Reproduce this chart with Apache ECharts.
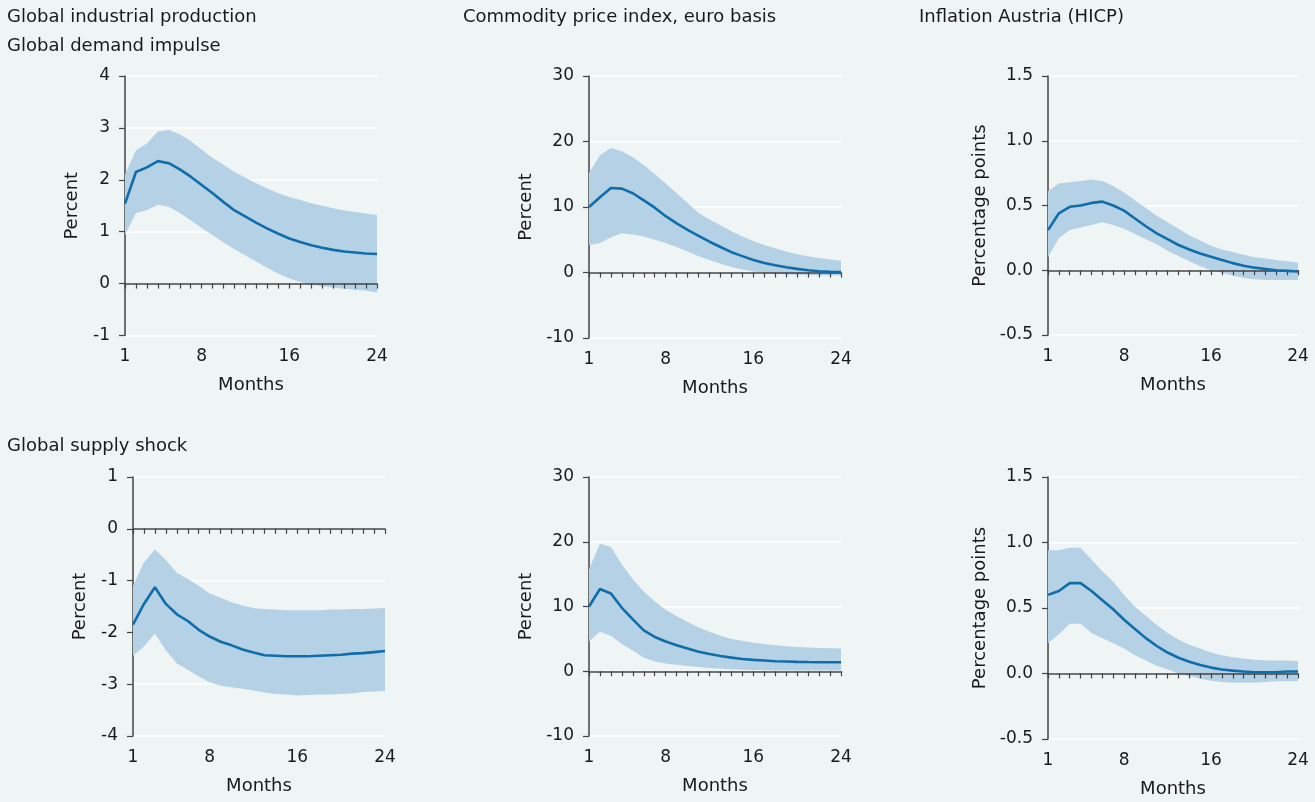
<!DOCTYPE html>
<html>
<head>
<meta charset="utf-8">
<script src="https://cdn.jsdelivr.net/npm/echarts@6/dist/echarts.min.js"></script>
<style>
html,body{margin:0;padding:0;background:#eff5f5;}
#chart{width:1315px;height:802px;}
</style>
</head>
<body>
<div id="chart"></div>
<script>
// ---- data ----
const months = [1,2,3,4,5,6,7,8,9,10,11,12,13,14,15,16,17,18,19,20,21,22,23,24];
const xTickLabels = [1, 8, 16, 24];

// Global demand impulse
const ipDemandMid   = [1.54,2.15,2.24,2.36,2.32,2.20,2.06,1.90,1.74,1.57,1.41,1.29,1.17,1.06,0.96,0.87,0.80,0.74,0.69,0.65,0.62,0.60,0.58,0.57];
const ipDemandUp    = [2.10,2.57,2.70,2.93,2.96,2.88,2.75,2.58,2.42,2.29,2.15,2.04,1.93,1.83,1.74,1.67,1.61,1.55,1.50,1.45,1.41,1.38,1.35,1.32];
const ipDemandLo    = [0.93,1.36,1.42,1.52,1.48,1.36,1.22,1.07,0.93,0.79,0.66,0.54,0.42,0.30,0.19,0.10,0.03,-0.02,-0.05,-0.08,-0.10,-0.12,-0.14,-0.17];

const comDemandMid  = [10.0,11.5,12.9,12.8,12.1,11.0,9.9,8.6,7.5,6.5,5.6,4.7,3.9,3.1,2.5,1.9,1.45,1.1,0.8,0.55,0.35,0.2,0.1,0.05];
const comDemandUp   = [15.2,17.9,19.0,18.5,17.6,16.4,15.0,13.6,12.1,10.6,9.1,8.1,7.2,6.3,5.5,4.8,4.2,3.7,3.2,2.8,2.5,2.2,2.0,1.8];
const comDemandLo   = [4.2,4.5,5.4,6.0,5.8,5.5,5.0,4.5,3.9,3.2,2.5,1.9,1.35,0.85,0.45,0.15,-0.05,-0.2,-0.3,-0.35,-0.4,-0.45,-0.45,-0.45];

const cpiDemandMid  = [0.31,0.44,0.49,0.50,0.52,0.53,0.50,0.46,0.40,0.34,0.285,0.24,0.195,0.16,0.13,0.105,0.08,0.055,0.035,0.02,0.01,0.0,-0.005,-0.01];
const cpiDemandUp   = [0.61,0.67,0.68,0.69,0.70,0.69,0.65,0.60,0.54,0.48,0.42,0.37,0.32,0.27,0.23,0.19,0.16,0.14,0.12,0.10,0.09,0.08,0.07,0.06];
const cpiDemandLo   = [0.10,0.25,0.31,0.33,0.35,0.37,0.35,0.32,0.28,0.24,0.20,0.15,0.11,0.07,0.03,0.0,-0.02,-0.04,-0.06,-0.07,-0.075,-0.075,-0.075,-0.075];

// Global supply shock
const ipSupplyMid   = [-1.85,-1.45,-1.13,-1.45,-1.65,-1.78,-1.95,-2.08,-2.18,-2.25,-2.33,-2.39,-2.44,-2.45,-2.46,-2.46,-2.46,-2.45,-2.44,-2.43,-2.41,-2.40,-2.38,-2.36];
const ipSupplyUp    = [-1.10,-0.65,-0.40,-0.60,-0.85,-0.97,-1.10,-1.25,-1.33,-1.42,-1.48,-1.53,-1.55,-1.56,-1.57,-1.57,-1.57,-1.57,-1.56,-1.56,-1.55,-1.55,-1.54,-1.53];
const ipSupplyLo    = [-2.45,-2.27,-2.02,-2.35,-2.60,-2.72,-2.85,-2.96,-3.03,-3.06,-3.09,-3.12,-3.16,-3.19,-3.20,-3.22,-3.21,-3.20,-3.20,-3.19,-3.18,-3.15,-3.14,-3.13];

const comSupplyMid  = [10.0,12.7,12.0,9.8,8.0,6.3,5.3,4.6,4.0,3.5,3.0,2.65,2.35,2.1,1.9,1.75,1.65,1.55,1.5,1.45,1.42,1.4,1.4,1.4];
const comSupplyUp   = [15.8,19.7,19.2,16.5,14.2,12.3,10.8,9.5,8.5,7.6,6.8,6.1,5.5,5.0,4.7,4.4,4.2,4.0,3.85,3.75,3.65,3.6,3.55,3.5];
const comSupplyLo   = [4.6,6.1,5.5,4.2,3.2,2.1,1.5,1.2,1.0,0.8,0.65,0.5,0.4,0.3,0.25,0.2,0.15,0.12,0.1,0.1,0.1,0.1,0.1,0.1];

const cpiSupplyMid  = [0.60,0.63,0.69,0.69,0.63,0.56,0.49,0.41,0.34,0.27,0.21,0.16,0.12,0.09,0.065,0.045,0.03,0.022,0.015,0.01,0.01,0.01,0.015,0.015];
const cpiSupplyUp   = [0.94,0.94,0.96,0.96,0.87,0.78,0.70,0.60,0.51,0.44,0.37,0.31,0.26,0.22,0.19,0.16,0.14,0.125,0.115,0.105,0.10,0.10,0.10,0.095];
const cpiSupplyLo   = [0.23,0.30,0.38,0.38,0.31,0.27,0.23,0.19,0.14,0.10,0.06,0.03,0.0,-0.02,-0.04,-0.055,-0.065,-0.07,-0.07,-0.07,-0.065,-0.06,-0.06,-0.06];

const titles = ['Global industrial production', 'Global demand impulse', 'Commodity price index, euro basis', 'Inflation Austria (HICP)', 'Global supply shock'];
const yNames = ['Percent', 'Percent', 'Percentage points', 'Percent', 'Percent', 'Percentage points'];
const xName = 'Months';

// ---- layout ----
const FONT = 'DejaVu Sans';
const TXT = '#1a1a1a';
const AX = '#444';
const BAND = '#b5d1e6';
const LINE = '#0f6eaa';

const panels = [
  {grid:{left:125, top:76, width:252, height:259.5}, min:-1, max:4, interval:1, dec:0, mid:ipDemandMid, up:ipDemandUp, lo:ipDemandLo, yName:yNames[0], nameGap:44},
  {grid:{left:589, top:76, width:252, height:262}, min:-10, max:30, interval:10, dec:0, mid:comDemandMid, up:comDemandUp, lo:comDemandLo, yName:yNames[1], nameGap:54},
  {grid:{left:1048, top:76, width:250, height:259}, min:-0.5, max:1.5, interval:0.5, dec:1, mid:cpiDemandMid, up:cpiDemandUp, lo:cpiDemandLo, yName:yNames[2], nameGap:59},
  {grid:{left:133, top:477, width:252, height:259}, min:-4, max:1, interval:1, dec:0, mid:ipSupplyMid, up:ipSupplyUp, lo:ipSupplyLo, yName:yNames[3], nameGap:44},
  {grid:{left:589, top:477, width:252, height:259}, min:-10, max:30, interval:10, dec:0, mid:comSupplyMid, up:comSupplyUp, lo:comSupplyLo, yName:yNames[4], nameGap:54},
  {grid:{left:1048, top:477, width:250, height:262}, min:-0.5, max:1.5, interval:0.5, dec:1, mid:cpiSupplyMid, up:cpiSupplyUp, lo:cpiSupplyLo, yName:yNames[5], nameGap:59}
];

const grids = [], xAxes = [], yAxes = [], series = [];
panels.forEach((p, i) => {
  grids.push(Object.assign({containLabel:false}, p.grid));
  // labelled x axis at the bottom
  xAxes.push({
    type:'category', gridIndex:i, data:months, boundaryGap:false, position:'bottom',
    axisLine:{show:false, onZero:false}, axisTick:{show:false},
    axisLabel:{
      interval:0, margin:13, fontFamily:FONT, fontSize:17, color:TXT,
      formatter:(v) => xTickLabels.indexOf(Number(v)) >= 0 ? v : ''
    },
    name:xName, nameLocation:'middle', nameGap:41,
    nameTextStyle:{fontFamily:FONT, fontSize:18, color:TXT},
    splitLine:{show:false}
  });
  // zero line axis with month ticks
  xAxes.push({
    type:'category', gridIndex:i, data:months, boundaryGap:false, position:'bottom', z:2.5,
    axisLine:{show:true, onZero:true, lineStyle:{color:AX, width:1.5}},
    axisTick:{show:true, interval:0, length:5, lineStyle:{color:AX, width:1.2}},
    axisLabel:{show:false}, splitLine:{show:false}
  });
  yAxes.push({
    type:'value', gridIndex:i, min:p.min, max:p.max, interval:p.interval,
    axisLine:{show:true, lineStyle:{color:AX, width:1.5}},
    axisTick:{show:true, length:6, lineStyle:{color:AX, width:1.2}},
    axisLabel:{margin:15, fontFamily:FONT, fontSize:17, color:TXT,
      formatter:(v) => v.toFixed(p.dec)},
    splitLine:{show:true, lineStyle:{color:'#ffffff', width:1.7}},
    name:p.yName, nameLocation:'middle', nameGap:p.nameGap, nameRotate:90,
    nameTextStyle:{fontFamily:FONT, fontSize:18, color:TXT}
  });
  const stackId = 'band' + i;
  series.push({
    type:'line', xAxisIndex:2*i+1, yAxisIndex:i, data:p.lo, stack:stackId, stackStrategy:'all',
    symbol:'none', lineStyle:{opacity:0}, silent:true, z:1
  });
  series.push({
    type:'line', xAxisIndex:2*i+1, yAxisIndex:i, data:p.up.map((u, k) => +(u - p.lo[k]).toFixed(4)),
    stack:stackId, stackStrategy:'all',
    symbol:'none', lineStyle:{opacity:0}, areaStyle:{color:BAND, opacity:1}, silent:true, z:1
  });
  series.push({
    type:'line', xAxisIndex:2*i+1, yAxisIndex:i, data:p.mid,
    symbol:'none', lineStyle:{color:LINE, width:2.6}, z:3
  });
});

const titleComps = [
  {text:titles[0], left:7, top:8},
  {text:titles[1], left:7, top:37},
  {text:titles[2], left:463, top:8},
  {text:titles[3], left:919, top:8},
  {text:titles[4], left:7, top:437}
].map(t => Object.assign(t, {padding:0, textStyle:{fontFamily:FONT, fontSize:18, fontWeight:'normal', color:TXT}}));

const chart = echarts.init(document.getElementById('chart'), null, {renderer:'canvas'});
chart.setOption({
  backgroundColor:'#eff5f5',
  animation:false,
  title:titleComps,
  grid:grids,
  xAxis:xAxes,
  yAxis:yAxes,
  series:series
});
</script>
</body>
</html>
